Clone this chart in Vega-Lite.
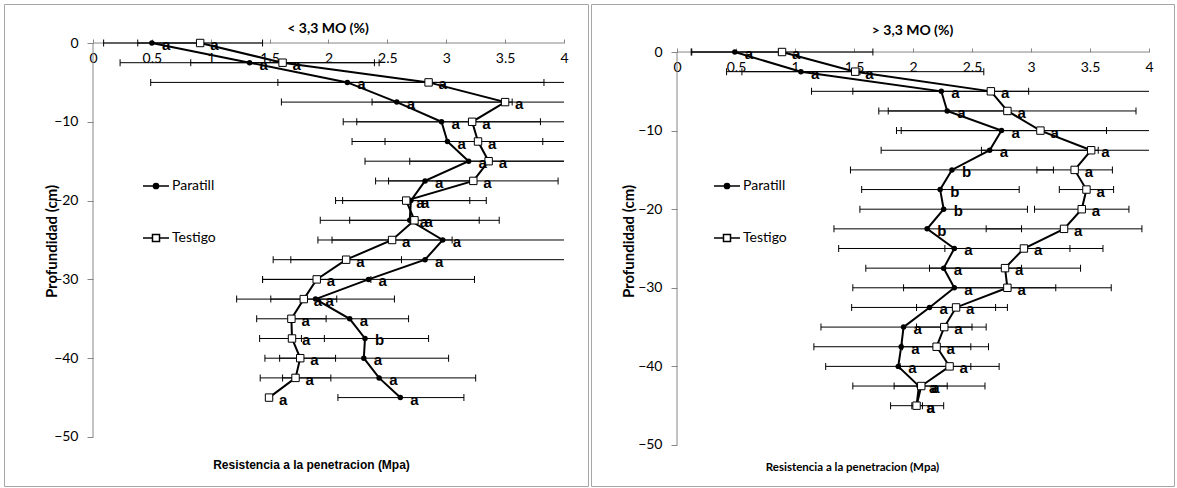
{
  "$schema": "https://vega.github.io/schema/vega-lite/v6.json",
  "padding": {"left": 3, "top": 3, "right": 0, "bottom": 0},
  "background": "white",
  "spacing": 1,
  "resolve": {"scale": {"shape": "independent", "x": "independent", "y": "independent"}, "legend": {"shape": "independent"}},
  "config": {
    "view": {"stroke": "#a6a6a6", "strokeWidth": 1},
    "font": "Lato"
  },
  "datasets": {
    "left": [
      {"serie": "Paratill", "depth": 0, "mean": 0.50, "lo": 0.09, "hi": 0.91, "clipped": 0, "label": "a"},
      {"serie": "Paratill", "depth": -2.5, "mean": 1.33, "lo": 0.23, "hi": 2.43, "clipped": 0, "label": "a"},
      {"serie": "Paratill", "depth": -5, "mean": 2.16, "lo": 0.49, "hi": 3.83, "clipped": 0, "label": "a"},
      {"serie": "Paratill", "depth": -7.5, "mean": 2.58, "lo": 1.60, "hi": 3.56, "clipped": 0, "label": "a"},
      {"serie": "Paratill", "depth": -10, "mean": 2.96, "lo": 2.125, "hi": 3.80, "clipped": 0, "label": "a"},
      {"serie": "Paratill", "depth": -12.5, "mean": 3.01, "lo": 2.20, "hi": 3.82, "clipped": 0, "label": "a"},
      {"serie": "Paratill", "depth": -15, "mean": 3.19, "lo": 2.31, "hi": 4, "clipped": 1, "label": "a"},
      {"serie": "Paratill", "depth": -17.5, "mean": 2.82, "lo": 2.40, "hi": 3.24, "clipped": 0, "label": "a"},
      {"serie": "Paratill", "depth": -20, "mean": 2.70, "lo": 2.06, "hi": 3.34, "clipped": 0, "label": "a"},
      {"serie": "Paratill", "depth": -22.5, "mean": 2.69, "lo": 1.93, "hi": 3.45, "clipped": 0, "label": "a"},
      {"serie": "Paratill", "depth": -25, "mean": 2.97, "lo": 1.91, "hi": 4, "clipped": 1, "label": "a"},
      {"serie": "Paratill", "depth": -27.5, "mean": 2.82, "lo": 1.53, "hi": 4, "clipped": 1, "label": "a"},
      {"serie": "Paratill", "depth": -30, "mean": 2.34, "lo": 1.44, "hi": 3.24, "clipped": 0, "label": "a"},
      {"serie": "Paratill", "depth": -32.5, "mean": 1.89, "lo": 1.22, "hi": 2.56, "clipped": 0, "label": "a"},
      {"serie": "Paratill", "depth": -35, "mean": 2.18, "lo": 1.68, "hi": 2.68, "clipped": 0, "label": "a"},
      {"serie": "Paratill", "depth": -37.5, "mean": 2.31, "lo": 1.77, "hi": 2.85, "clipped": 0, "label": "b"},
      {"serie": "Paratill", "depth": -40, "mean": 2.30, "lo": 1.585, "hi": 3.02, "clipped": 0, "label": "a"},
      {"serie": "Paratill", "depth": -42.5, "mean": 2.43, "lo": 1.61, "hi": 3.25, "clipped": 0, "label": "a"},
      {"serie": "Paratill", "depth": -45, "mean": 2.61, "lo": 2.08, "hi": 3.15, "clipped": 0, "label": "a"},
      {"serie": "Testigo", "depth": 0, "mean": 0.91, "lo": 0.38, "hi": 1.44, "clipped": 0, "label": "a"},
      {"serie": "Testigo", "depth": -2.5, "mean": 1.61, "lo": 0.83, "hi": 2.39, "clipped": 0, "label": "a"},
      {"serie": "Testigo", "depth": -5, "mean": 2.85, "lo": 1.57, "hi": 4, "clipped": 1, "label": "a"},
      {"serie": "Testigo", "depth": -7.5, "mean": 3.50, "lo": 2.37, "hi": 4, "clipped": 1, "label": "a"},
      {"serie": "Testigo", "depth": -10, "mean": 3.22, "lo": 2.24, "hi": 4, "clipped": 1, "label": "a"},
      {"serie": "Testigo", "depth": -12.5, "mean": 3.27, "lo": 2.48, "hi": 4, "clipped": 1, "label": "a"},
      {"serie": "Testigo", "depth": -15, "mean": 3.36, "lo": 2.69, "hi": 4, "clipped": 1, "label": "a"},
      {"serie": "Testigo", "depth": -17.5, "mean": 3.23, "lo": 2.51, "hi": 3.95, "clipped": 0, "label": "a"},
      {"serie": "Testigo", "depth": -20, "mean": 2.66, "lo": 2.12, "hi": 3.20, "clipped": 0, "label": "a"},
      {"serie": "Testigo", "depth": -22.5, "mean": 2.73, "lo": 2.18, "hi": 3.28, "clipped": 0, "label": "a"},
      {"serie": "Testigo", "depth": -25, "mean": 2.54, "lo": 2.03, "hi": 3.05, "clipped": 0, "label": "a"},
      {"serie": "Testigo", "depth": -27.5, "mean": 2.15, "lo": 1.68, "hi": 2.62, "clipped": 0, "label": "a"},
      {"serie": "Testigo", "depth": -30, "mean": 1.90, "lo": 1.44, "hi": 2.36, "clipped": 0, "label": "a"},
      {"serie": "Testigo", "depth": -32.5, "mean": 1.79, "lo": 1.51, "hi": 2.07, "clipped": 0, "label": "a"},
      {"serie": "Testigo", "depth": -35, "mean": 1.685, "lo": 1.39, "hi": 1.98, "clipped": 0, "label": "a"},
      {"serie": "Testigo", "depth": -37.5, "mean": 1.69, "lo": 1.415, "hi": 1.965, "clipped": 0, "label": "a"},
      {"serie": "Testigo", "depth": -40, "mean": 1.76, "lo": 1.46, "hi": 2.06, "clipped": 0, "label": "a"},
      {"serie": "Testigo", "depth": -42.5, "mean": 1.72, "lo": 1.42, "hi": 2.02, "clipped": 0, "label": "a"},
      {"serie": "Testigo", "depth": -45, "mean": 1.495, "lo": 1.495, "hi": 1.495, "clipped": 0, "label": "a"}
    ],
    "right": [
      {"serie": "Paratill", "depth": 0, "mean": 0.49, "lo": 0.125, "hi": 0.86, "clipped": 0, "label": "a"},
      {"serie": "Paratill", "depth": -2.5, "mean": 1.05, "lo": 0.55, "hi": 1.55, "clipped": 0, "label": "a"},
      {"serie": "Paratill", "depth": -5, "mean": 2.24, "lo": 1.49, "hi": 2.98, "clipped": 0, "label": "a"},
      {"serie": "Paratill", "depth": -7.5, "mean": 2.29, "lo": 1.79, "hi": 2.79, "clipped": 0, "label": "a"},
      {"serie": "Paratill", "depth": -10, "mean": 2.75, "lo": 1.86, "hi": 3.64, "clipped": 0, "label": "a"},
      {"serie": "Paratill", "depth": -12.5, "mean": 2.65, "lo": 1.73, "hi": 3.57, "clipped": 0, "label": "a"},
      {"serie": "Paratill", "depth": -15, "mean": 2.33, "lo": 1.47, "hi": 3.19, "clipped": 0, "label": "b"},
      {"serie": "Paratill", "depth": -17.5, "mean": 2.23, "lo": 1.565, "hi": 2.90, "clipped": 0, "label": "b"},
      {"serie": "Paratill", "depth": -20, "mean": 2.26, "lo": 1.55, "hi": 2.97, "clipped": 0, "label": "b"},
      {"serie": "Paratill", "depth": -22.5, "mean": 2.12, "lo": 1.33, "hi": 2.92, "clipped": 0, "label": "b"},
      {"serie": "Paratill", "depth": -25, "mean": 2.35, "lo": 1.37, "hi": 3.33, "clipped": 0, "label": "a"},
      {"serie": "Paratill", "depth": -27.5, "mean": 2.26, "lo": 1.60, "hi": 2.92, "clipped": 0, "label": "a"},
      {"serie": "Paratill", "depth": -30, "mean": 2.35, "lo": 1.49, "hi": 3.21, "clipped": 0, "label": "a"},
      {"serie": "Paratill", "depth": -32.5, "mean": 2.14, "lo": 1.48, "hi": 2.80, "clipped": 0, "label": "a"},
      {"serie": "Paratill", "depth": -35, "mean": 1.92, "lo": 1.22, "hi": 2.62, "clipped": 0, "label": "a"},
      {"serie": "Paratill", "depth": -37.5, "mean": 1.90, "lo": 1.16, "hi": 2.64, "clipped": 0, "label": "a"},
      {"serie": "Paratill", "depth": -40, "mean": 1.875, "lo": 1.26, "hi": 2.49, "clipped": 0, "label": "a"},
      {"serie": "Paratill", "depth": -42.5, "mean": 2.05, "lo": 1.49, "hi": 2.61, "clipped": 0, "label": "a"},
      {"serie": "Paratill", "depth": -45, "mean": 2.03, "lo": 1.81, "hi": 2.26, "clipped": 0, "label": "a"},
      {"serie": "Testigo", "depth": 0, "mean": 0.89, "lo": 0.12, "hi": 1.66, "clipped": 0, "label": "a"},
      {"serie": "Testigo", "depth": -2.5, "mean": 1.51, "lo": 0.42, "hi": 2.60, "clipped": 0, "label": "a"},
      {"serie": "Testigo", "depth": -5, "mean": 2.66, "lo": 1.14, "hi": 4, "clipped": 1, "label": "a"},
      {"serie": "Testigo", "depth": -7.5, "mean": 2.80, "lo": 1.71, "hi": 3.89, "clipped": 0, "label": "a"},
      {"serie": "Testigo", "depth": -10, "mean": 3.08, "lo": 1.90, "hi": 4, "clipped": 1, "label": "a"},
      {"serie": "Testigo", "depth": -12.5, "mean": 3.51, "lo": 2.58, "hi": 4, "clipped": 1, "label": "a"},
      {"serie": "Testigo", "depth": -15, "mean": 3.37, "lo": 3.05, "hi": 3.69, "clipped": 0, "label": "a"},
      {"serie": "Testigo", "depth": -17.5, "mean": 3.47, "lo": 3.24, "hi": 3.70, "clipped": 0, "label": "a"},
      {"serie": "Testigo", "depth": -20, "mean": 3.43, "lo": 3.03, "hi": 3.83, "clipped": 0, "label": "a"},
      {"serie": "Testigo", "depth": -22.5, "mean": 3.28, "lo": 2.62, "hi": 3.94, "clipped": 0, "label": "a"},
      {"serie": "Testigo", "depth": -25, "mean": 2.94, "lo": 2.27, "hi": 3.61, "clipped": 0, "label": "a"},
      {"serie": "Testigo", "depth": -27.5, "mean": 2.78, "lo": 2.14, "hi": 3.42, "clipped": 0, "label": "a"},
      {"serie": "Testigo", "depth": -30, "mean": 2.80, "lo": 1.92, "hi": 3.68, "clipped": 0, "label": "a"},
      {"serie": "Testigo", "depth": -32.5, "mean": 2.365, "lo": 2.03, "hi": 2.70, "clipped": 0, "label": "a"},
      {"serie": "Testigo", "depth": -35, "mean": 2.265, "lo": 2.03, "hi": 2.50, "clipped": 0, "label": "a"},
      {"serie": "Testigo", "depth": -37.5, "mean": 2.20, "lo": 1.91, "hi": 2.49, "clipped": 0, "label": "a"},
      {"serie": "Testigo", "depth": -40, "mean": 2.31, "lo": 1.89, "hi": 2.73, "clipped": 0, "label": "a"},
      {"serie": "Testigo", "depth": -42.5, "mean": 2.07, "lo": 1.84, "hi": 2.29, "clipped": 0, "label": "a"},
      {"serie": "Testigo", "depth": -45, "mean": 2.03, "lo": 1.99, "hi": 2.08, "clipped": 0, "label": "a"}
    ]
  },
  "hconcat": [
    {
      "width": 584,
      "height": 482,
      "data": {"name": "left"},
      "title": {"text": "< 3,3 MO (%)", "offset": -32, "dx": 32, "frame": "group", "fontSize": 14, "font": "Lato", "fontWeight": "bold", "color": "black"},
      "layer": [
        {
          "data": {"values": [{}]},
          "mark": {"type": "rule", "color": "#868686", "strokeWidth": 1},
          "encoding": {
            "x": {"datum": 0, "type": "quantitative", "scale": {"domain": [-0.756, 4.204], "nice": false, "zero": false}},
            "y": {"datum": 0, "type": "quantitative", "scale": {"domain": [-56.22, 4.95], "nice": false, "zero": false}},
            "y2": {"datum": -50}
          }
        },
        {
          "data": {"values": [{}]},
          "mark": {"type": "rule", "color": "#868686", "strokeWidth": 1},
          "encoding": {
            "x": {"datum": 0, "type": "quantitative", "scale": {"domain": [-0.756, 4.204], "nice": false, "zero": false}},
            "x2": {"datum": 4},
            "y": {"datum": 0, "type": "quantitative", "scale": {"domain": [-56.22, 4.95], "nice": false, "zero": false}}
          }
        },
        {
          "mark": {"type": "rule", "color": "black", "strokeWidth": 1},
          "encoding": {
            "x": {"field": "lo", "type": "quantitative", "scale": {"domain": [-0.756, 4.204], "nice": false, "zero": false}},
            "x2": {"field": "hi"},
            "y": {"field": "depth", "type": "quantitative", "scale": {"domain": [-56.22, 4.95], "nice": false, "zero": false}}
          }
        },
        {
          "mark": {"type": "tick", "orient": "vertical", "size": 7, "thickness": 1, "color": "black", "opacity": 1},
          "encoding": {
            "x": {"field": "lo", "type": "quantitative", "scale": {"domain": [-0.756, 4.204], "nice": false, "zero": false}},
            "y": {"field": "depth", "type": "quantitative", "scale": {"domain": [-56.22, 4.95], "nice": false, "zero": false}}
          }
        },
        {
          "transform": [{"filter": "datum.clipped == 0"}],
          "mark": {"type": "tick", "orient": "vertical", "size": 7, "thickness": 1, "color": "black", "opacity": 1},
          "encoding": {
            "x": {"field": "hi", "type": "quantitative", "scale": {"domain": [-0.756, 4.204], "nice": false, "zero": false}},
            "y": {"field": "depth", "type": "quantitative", "scale": {"domain": [-56.22, 4.95], "nice": false, "zero": false}}
          }
        },
        {
          "mark": {"type": "line", "color": "black", "strokeWidth": 2},
          "encoding": {
            "x": {"field": "mean", "type": "quantitative", "scale": {"domain": [-0.756, 4.204], "nice": false, "zero": false}},
            "y": {"field": "depth", "type": "quantitative", "scale": {"domain": [-56.22, 4.95], "nice": false, "zero": false}},
            "detail": {"field": "serie"},
            "order": {"field": "depth", "sort": "descending"}
          }
        },
        {
          "mark": {"type": "point", "filled": false, "color": "black", "opacity": 0, "strokeWidth": 1.5},
          "encoding": {
            "x": {"field": "mean", "type": "quantitative", "scale": {"domain": [-0.756, 4.204], "nice": false, "zero": false}},
            "y": {"field": "depth", "type": "quantitative", "scale": {"domain": [-56.22, 4.95], "nice": false, "zero": false}},
            "shape": {"field": "serie", "type": "nominal", "scale": {"domain": ["Paratill", "Testigo"], "range": ["M-1,0L1,0M0.06,0A0.06,0.06,0,1,1,-0.06,0A0.06,0.06,0,1,1,0.06,0M0.13,0A0.13,0.13,0,1,1,-0.13,0A0.13,0.13,0,1,1,0.13,0M0.2,0A0.2,0.2,0,1,1,-0.2,0A0.2,0.2,0,1,1,0.2,0", "M-1,0L-0.27,0M0.27,0L1,0M-0.27,-0.27L0.27,-0.27L0.27,0.27L-0.27,0.27Z"]},
              "legend": {"orient": "none", "legendX": 138, "legendY": 168, "title": null, "direction": "vertical", "padding": 0, "rowPadding": 31, "labelFont": "Lato", "labelFontSize": 14, "labelColor": "black", "labelOffset": 2, "symbolSize": 676, "symbolOpacity": 1, "symbolStrokeWidth": 1.5, "symbolStrokeColor": "black", "symbolFillColor": "transparent"}}
          }
        },
        {
          "transform": [{"filter": "datum.serie == 'Paratill'"}],
          "mark": {"type": "point", "shape": "circle", "filled": true, "color": "black", "size": 30, "opacity": 1},
          "encoding": {
            "x": {"field": "mean", "type": "quantitative", "scale": {"domain": [-0.756, 4.204], "nice": false, "zero": false}},
            "y": {"field": "depth", "type": "quantitative", "scale": {"domain": [-56.22, 4.95], "nice": false, "zero": false}}
          }
        },
        {
          "transform": [{"filter": "datum.serie == 'Testigo'"}],
          "mark": {"type": "point", "shape": "square", "filled": true, "fill": "white", "stroke": "black", "strokeWidth": 1, "size": 55, "opacity": 1},
          "encoding": {
            "x": {"field": "mean", "type": "quantitative", "scale": {"domain": [-0.756, 4.204], "nice": false, "zero": false}},
            "y": {"field": "depth", "type": "quantitative", "scale": {"domain": [-56.22, 4.95], "nice": false, "zero": false}}
          }
        },
        {
          "mark": {"type": "text", "align": "left", "baseline": "middle", "dx": 10, "dy": 2, "font": "Liberation Sans", "fontSize": 15, "fontWeight": "bold", "color": "black"},
          "encoding": {
            "x": {"field": "mean", "type": "quantitative", "scale": {"domain": [-0.756, 4.204], "nice": false, "zero": false},
              "axis": {"orient": "bottom", "offset": -443, "values": [0, 0.5, 1, 1.5, 2, 2.5, 3, 3.5, 4], "format": "~g", "domain": false, "grid": false, "ticks": true, "tickSize": -4, "tickColor": "#868686", "labelPadding": 12, "labelFontSize": 14, "labelFont": "Lato", "labelColor": "black",
                "title": "Resistencia a la penetracion (Mpa)", "titleX": 307, "titleY": 421, "titleAlign": "center", "titleBaseline": "middle", "titleFont": "Liberation Sans", "titleFontSize": 12, "titleFontWeight": "bold", "titleColor": "black"}},
            "y": {"field": "depth", "type": "quantitative", "scale": {"domain": [-56.22, 4.95], "nice": false, "zero": false},
              "axis": {"orient": "left", "offset": -89, "values": [0, -10, -20, -30, -40, -50], "domain": false, "grid": false, "tickSize": 6, "tickColor": "#868686", "labelPadding": 9, "labelFontSize": 14, "labelFont": "Lato", "labelColor": "black",
                "title": "Profundidad (cm)", "titleX": -42, "titleY": 237, "titleAngle": -90, "titleAlign": "center", "titleBaseline": "middle", "titleFont": "Lato", "titleFontSize": 15, "titleFontWeight": "bold", "titleColor": "black"}},
            "text": {"field": "label"}
          }
        }
      ]
    },
    {
      "width": 583,
      "height": 482,
      "data": {"name": "right"},
      "title": {"text": "> 3,3 MO (%)", "offset": -34, "dx": 30, "frame": "group", "fontSize": 14, "font": "Lato", "fontWeight": "bold", "color": "black"},
      "layer": [
        {
          "data": {"values": [{}]},
          "mark": {"type": "rule", "color": "#868686", "strokeWidth": 1},
          "encoding": {
            "x": {"datum": 0, "type": "quantitative", "scale": {"domain": [-0.729, 4.212], "nice": false, "zero": false}},
            "y": {"datum": 0, "type": "quantitative", "scale": {"domain": [-55.22, 6.11], "nice": false, "zero": false}},
            "y2": {"datum": -50}
          }
        },
        {
          "data": {"values": [{}]},
          "mark": {"type": "rule", "color": "#868686", "strokeWidth": 1},
          "encoding": {
            "x": {"datum": 0, "type": "quantitative", "scale": {"domain": [-0.729, 4.212], "nice": false, "zero": false}},
            "x2": {"datum": 4},
            "y": {"datum": 0, "type": "quantitative", "scale": {"domain": [-55.22, 6.11], "nice": false, "zero": false}}
          }
        },
        {
          "mark": {"type": "rule", "color": "black", "strokeWidth": 1},
          "encoding": {
            "x": {"field": "lo", "type": "quantitative", "scale": {"domain": [-0.729, 4.212], "nice": false, "zero": false}},
            "x2": {"field": "hi"},
            "y": {"field": "depth", "type": "quantitative", "scale": {"domain": [-55.22, 6.11], "nice": false, "zero": false}}
          }
        },
        {
          "mark": {"type": "tick", "orient": "vertical", "size": 7, "thickness": 1, "color": "black", "opacity": 1},
          "encoding": {
            "x": {"field": "lo", "type": "quantitative", "scale": {"domain": [-0.729, 4.212], "nice": false, "zero": false}},
            "y": {"field": "depth", "type": "quantitative", "scale": {"domain": [-55.22, 6.11], "nice": false, "zero": false}}
          }
        },
        {
          "transform": [{"filter": "datum.clipped == 0"}],
          "mark": {"type": "tick", "orient": "vertical", "size": 7, "thickness": 1, "color": "black", "opacity": 1},
          "encoding": {
            "x": {"field": "hi", "type": "quantitative", "scale": {"domain": [-0.729, 4.212], "nice": false, "zero": false}},
            "y": {"field": "depth", "type": "quantitative", "scale": {"domain": [-55.22, 6.11], "nice": false, "zero": false}}
          }
        },
        {
          "mark": {"type": "line", "color": "black", "strokeWidth": 2},
          "encoding": {
            "x": {"field": "mean", "type": "quantitative", "scale": {"domain": [-0.729, 4.212], "nice": false, "zero": false}},
            "y": {"field": "depth", "type": "quantitative", "scale": {"domain": [-55.22, 6.11], "nice": false, "zero": false}},
            "detail": {"field": "serie"},
            "order": {"field": "depth", "sort": "descending"}
          }
        },
        {
          "mark": {"type": "point", "filled": false, "color": "black", "opacity": 0, "strokeWidth": 1.5},
          "encoding": {
            "x": {"field": "mean", "type": "quantitative", "scale": {"domain": [-0.729, 4.212], "nice": false, "zero": false}},
            "y": {"field": "depth", "type": "quantitative", "scale": {"domain": [-55.22, 6.11], "nice": false, "zero": false}},
            "shape": {"field": "serie", "type": "nominal", "scale": {"domain": ["Paratill", "Testigo"], "range": ["M-1,0L1,0M0.06,0A0.06,0.06,0,1,1,-0.06,0A0.06,0.06,0,1,1,0.06,0M0.13,0A0.13,0.13,0,1,1,-0.13,0A0.13,0.13,0,1,1,0.13,0M0.2,0A0.2,0.2,0,1,1,-0.2,0A0.2,0.2,0,1,1,0.2,0", "M-1,0L-0.27,0M0.27,0L1,0M-0.27,-0.27L0.27,-0.27L0.27,0.27L-0.27,0.27Z"]},
              "legend": {"orient": "none", "legendX": 122, "legendY": 168, "title": null, "direction": "vertical", "padding": 0, "rowPadding": 31, "labelFont": "Lato", "labelFontSize": 14, "labelColor": "black", "labelOffset": 2, "symbolSize": 676, "symbolOpacity": 1, "symbolStrokeWidth": 1.5, "symbolStrokeColor": "black", "symbolFillColor": "transparent"}}
          }
        },
        {
          "transform": [{"filter": "datum.serie == 'Paratill'"}],
          "mark": {"type": "point", "shape": "circle", "filled": true, "color": "black", "size": 30, "opacity": 1},
          "encoding": {
            "x": {"field": "mean", "type": "quantitative", "scale": {"domain": [-0.729, 4.212], "nice": false, "zero": false}},
            "y": {"field": "depth", "type": "quantitative", "scale": {"domain": [-55.22, 6.11], "nice": false, "zero": false}}
          }
        },
        {
          "transform": [{"filter": "datum.serie == 'Testigo'"}],
          "mark": {"type": "point", "shape": "square", "filled": true, "fill": "white", "stroke": "black", "strokeWidth": 1, "size": 55, "opacity": 1},
          "encoding": {
            "x": {"field": "mean", "type": "quantitative", "scale": {"domain": [-0.729, 4.212], "nice": false, "zero": false}},
            "y": {"field": "depth", "type": "quantitative", "scale": {"domain": [-55.22, 6.11], "nice": false, "zero": false}}
          }
        },
        {
          "mark": {"type": "text", "align": "left", "baseline": "middle", "dx": 10, "dy": 2, "font": "Liberation Sans", "fontSize": 15, "fontWeight": "bold", "color": "black"},
          "encoding": {
            "x": {"field": "mean", "type": "quantitative", "scale": {"domain": [-0.729, 4.212], "nice": false, "zero": false},
              "axis": {"orient": "bottom", "offset": -434, "values": [0, 0.5, 1, 1.5, 2, 2.5, 3, 3.5, 4], "format": "~g", "domain": false, "grid": false, "ticks": true, "tickSize": -4, "tickColor": "#868686", "labelPadding": 12, "labelFontSize": 14, "labelFont": "Lato", "labelColor": "black",
                "title": "Resistencia a la penetracion (Mpa)", "titleX": 261, "titleY": 415, "titleAlign": "center", "titleBaseline": "middle", "titleFont": "Lato", "titleFontSize": 11.5, "titleFontWeight": "bold", "titleColor": "black"}},
            "y": {"field": "depth", "type": "quantitative", "scale": {"domain": [-55.22, 6.11], "nice": false, "zero": false},
              "axis": {"orient": "left", "offset": -86, "values": [0, -10, -20, -30, -40, -50], "domain": false, "grid": false, "tickSize": 6, "tickColor": "#868686", "labelPadding": 9, "labelFontSize": 14, "labelFont": "Lato", "labelColor": "black",
                "title": "Profundidad (cm)", "titleX": -49, "titleY": 237, "titleAngle": -90, "titleAlign": "center", "titleBaseline": "middle", "titleFont": "Lato", "titleFontSize": 15, "titleFontWeight": "bold", "titleColor": "black"}},
            "text": {"field": "label"}
          }
        }
      ]
    }
  ]
}
